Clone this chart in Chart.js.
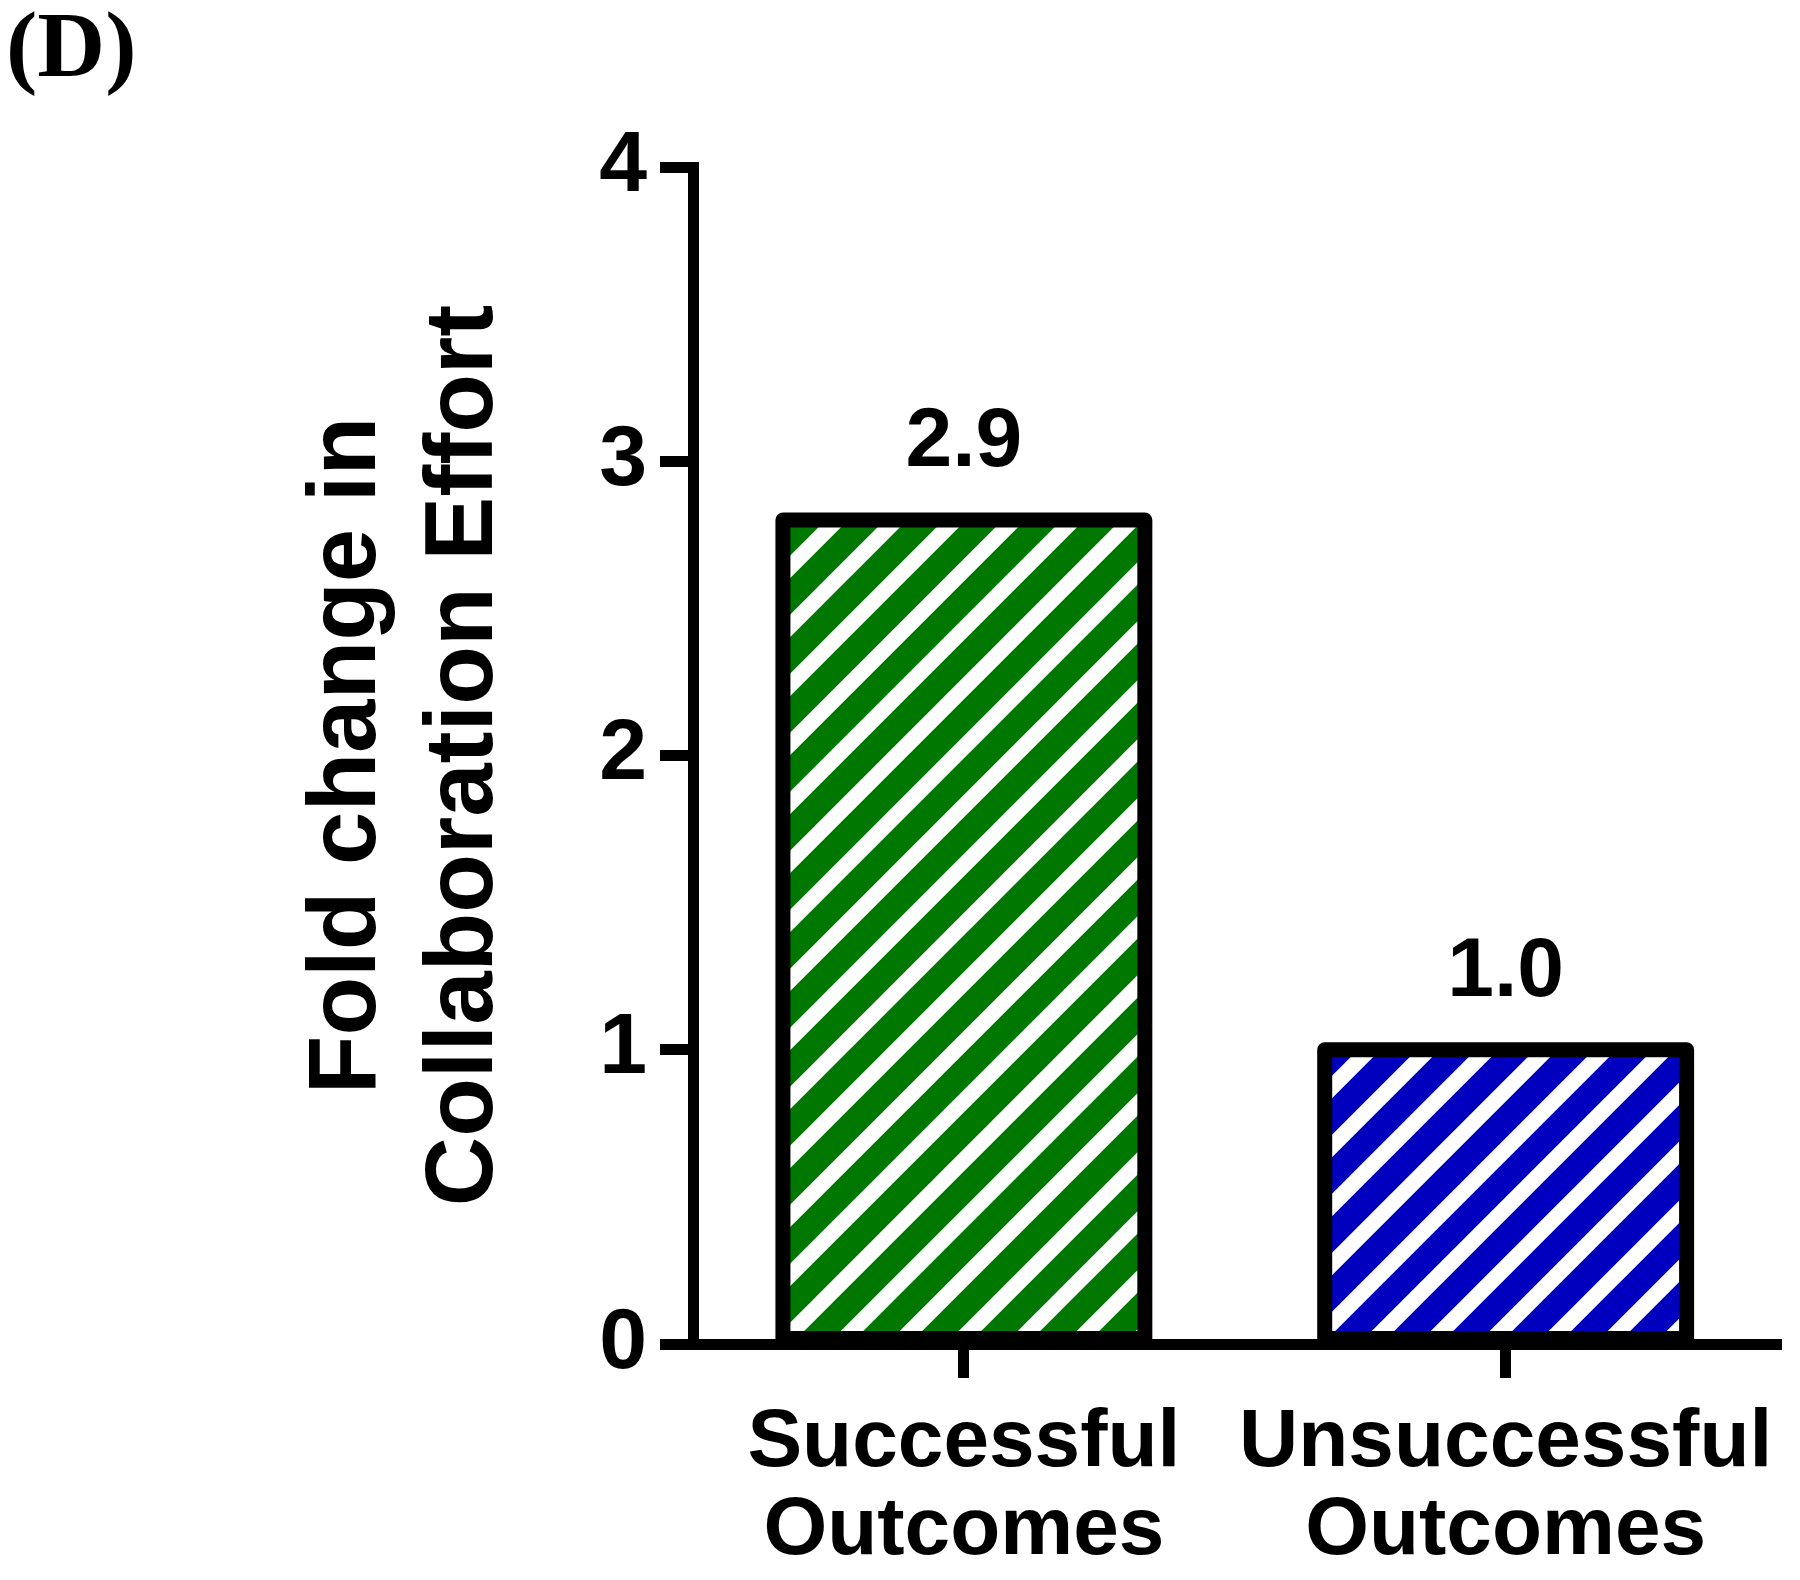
<!DOCTYPE html>
<html>
<head>
<meta charset="utf-8">
<script src="https://cdn.jsdelivr.net/npm/chart.js@4.4.1/dist/chart.umd.min.js"></script>
<style>
  html, body { margin: 0; padding: 0; background: #fff; }
  canvas { display: block; }
</style>
</head>
<body>
<canvas id="chart" width="1800" height="1580"></canvas>
<script>
// Data
const categories = [['Successful', 'Outcomes'], ['Unsuccessful', 'Outcomes']]
const foldChange = [2.8, 1.0]
const valueLabels = ['2.9', '1.0']
const barColors = ['#007700', '#0000be']
const yMin = 0
const yMax = 4
const yStep = 1
const yTitle = ['Fold change in', 'Collaboration Effort']
const panelLabel = '(D)'

const sans = '"Liberation Sans", Arial, Helvetica, sans-serif'
Chart.defaults.font.family = sans
Chart.defaults.color = '#000'

// diagonal white stripes over the bar colour
function makeHatch(color) {
    const size = 59
    const c = document.createElement('canvas')
    c.width = size
    c.height = size
    const ctx = c.getContext('2d')
    ctx.fillStyle = color
    ctx.fillRect(0, 0, size, size)
    ctx.strokeStyle = '#fff'
    ctx.lineWidth = size * 0.38 / Math.SQRT2
    ctx.beginPath()
    for (const o of [-size, 0, size]) {
        ctx.moveTo(o - size, 2 * size)
        ctx.lineTo(o + 2 * size, -size)
    }
    ctx.stroke()
    return ctx.createPattern(c, 'repeat')
}

const barOutline = {
    id: 'barOutline',
    afterDatasetsDraw(chart) {
        const ctx = chart.ctx
        const meta = chart.getDatasetMeta(0)
        ctx.save()
        ctx.strokeStyle = '#000'
        ctx.lineWidth = 15
        ctx.lineJoin = 'round'
        meta.data.forEach(bar => {
            ctx.strokeRect(bar.x - bar.width / 2, bar.y, bar.width, bar.base - bar.y)
        })
        ctx.fillStyle = '#000'
        ctx.font = 'bold 84px ' + sans
        ctx.textAlign = 'center'
        ctx.textBaseline = 'alphabetic'
        meta.data.forEach((bar, i) => ctx.fillText(valueLabels[i], bar.x, bar.y - 54))
        ctx.restore()
    }
}

const panelTag = {
    id: 'panelTag',
    afterDraw(chart) {
        const ctx = chart.ctx
        ctx.save()
        ctx.fillStyle = '#000'
        ctx.font = 'bold 94px "Liberation Serif", "Times New Roman", serif'
        ctx.textAlign = 'left'
        ctx.textBaseline = 'alphabetic'
        ctx.fillText(panelLabel, 6, 76)
        ctx.restore()
    }
}

const chart = new Chart(document.getElementById('chart'), {
    type: 'bar',
    data: {
        labels: categories,
        datasets: [{
            data: foldChange,
            backgroundColor: barColors.map(makeHatch),
            borderWidth: 0,
            categoryPercentage: 1,
            barPercentage: 0.668
        }]
    },
    options: {
        responsive: false,
        devicePixelRatio: 1,
        animation: false,
        layout: { padding: { top: 167, right: 23, bottom: 0, left: 0 } },
        plugins: {
            legend: { display: false },
            tooltip: { enabled: false }
        },
        scales: {
            x: {
                offset: true,
                ticks: {
                    color: '#000',
                    font: { size: 82, weight: 'bold', lineHeight: 1.07 },
                    padding: 22,
                    maxRotation: 0,
                    autoSkip: false
                },
                grid: { offset: false, drawOnChartArea: false, drawTicks: true, tickLength: 34, lineWidth: 11, color: '#000' },
                border: { display: true, width: 11, color: '#000' },
                afterFit(scale) { scale.height = 236 }
            },
            y: {
                min: yMin,
                max: yMax,
                ticks: {
                    stepSize: yStep,
                    color: '#000',
                    font: { size: 86, weight: 'bold' },
                    padding: 13
                },
                grid: { drawOnChartArea: false, drawTicks: true, tickLength: 33, lineWidth: 11, color: '#000' },
                border: { display: true, width: 11, color: '#000' },
                title: {
                    display: true,
                    text: yTitle,
                    color: '#000',
                    font: { size: 96, weight: 'bold', lineHeight: 1.22 },
                    padding: { top: 290, bottom: 0 }
                },
                afterFit(scale) { scale.width = 693 }
            }
        }
    },
    plugins: [barOutline, panelTag]
})
</script>
</body>
</html>
